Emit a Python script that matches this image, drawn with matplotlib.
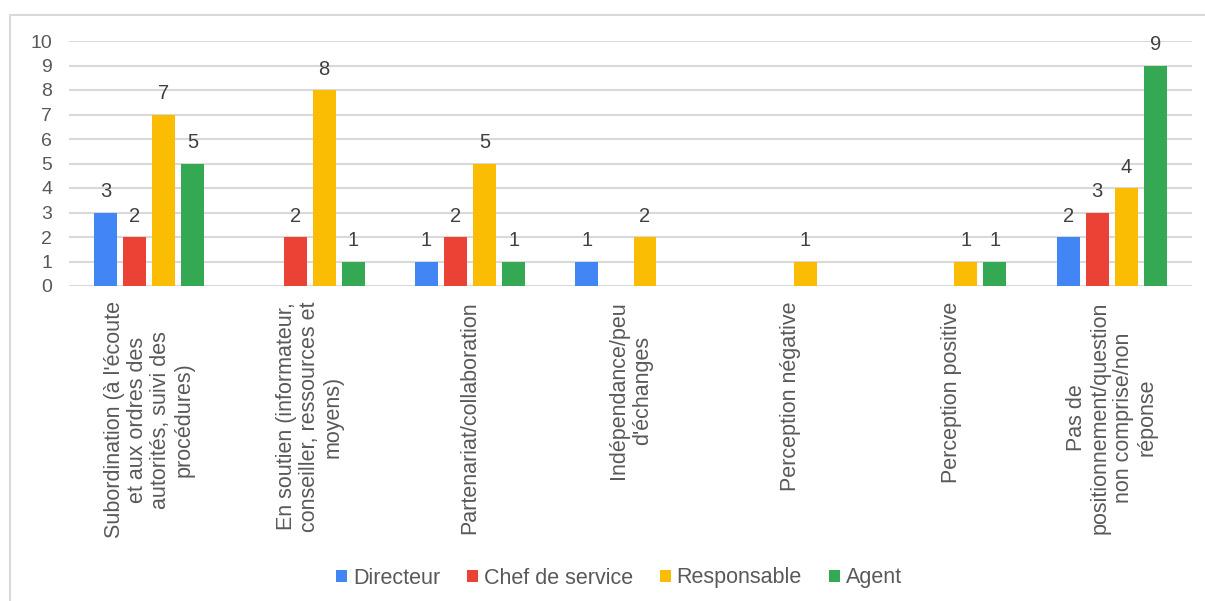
import matplotlib
matplotlib.use("Agg")
import matplotlib.pyplot as plt
from matplotlib.patches import Patch, Rectangle
import numpy as np

plt.rcParams['font.family'] = ['Liberation Sans', 'DejaVu Sans']

categories = [
    "Subordination (à l'écoute\net aux ordres des\nautorités, suivi des\nprocédures)",
    "En soutien (informateur,\nconseiller, ressources et\nmoyens)",
    "Partenariat/collaboration",
    "Indépendance/peu\nd'échanges",
    "Perception négative",
    "Perception positive",
    "Pas de\npositionnement/question\nnon comprise/non\nréponse",
]
series_names = ["Directeur", "Chef de service", "Responsable", "Agent"]
directeur = [3, 0, 1, 1, 0, 0, 2]
chef_de_service = [2, 2, 2, 0, 0, 0, 3]
responsable = [7, 8, 5, 2, 1, 1, 4]
agent = [5, 1, 1, 0, 0, 1, 9]
yticks = list(range(0, 11))

colors = ["#4285F4", "#EA4335", "#FBBC04", "#34A853"]
values = [directeur, chef_de_service, responsable, agent]

W, H = 1205, 601
fig = plt.figure(figsize=(W / 100, H / 100), dpi=100)
fig.patch.set_facecolor("white")

# light outer frame
fig.patches.append(Rectangle((10 / W, -0.05), 1.2, 1 - 15 / H + 0.05,
                             transform=fig.transFigure, fill=False,
                             edgecolor="#D9D9D9", linewidth=1.5))

ax = fig.add_axes([69 / W, 1 - 286 / H, (1192 - 69) / W, (286 - 41) / H])
x = np.arange(len(categories))
bw = 0.143
step = 0.181
text_gray = "#595959"

for i, (name, vals, c) in enumerate(zip(series_names, values, colors)):
    pos = x + (i - 1.5) * step
    bars = ax.bar(pos, vals, width=bw, color=c, label=name, zorder=3)
    for b, v in zip(bars, vals):
        if v > 0:
            ax.annotate(str(v), (b.get_x() + b.get_width() / 2, v),
                        xytext=(0, 8), textcoords="offset points",
                        ha="center", va="bottom", fontsize=14.5,
                        color="#404040")

ax.set_xlim(-0.5, len(categories) - 0.5)
ax.set_ylim(0, 10)
ax.set_yticks(yticks)
ax.set_yticklabels([str(t) for t in yticks])
ax.yaxis.grid(True, color="#D9D9D9", linewidth=1.5, zorder=0)
ax.set_axisbelow(True)
for s in ax.spines.values():
    s.set_visible(False)
ax.tick_params(axis="y", length=0, pad=12, labelsize=14, labelcolor=text_gray)
ax.tick_params(axis="x", length=0, pad=11, labelsize=15.5, labelcolor=text_gray)
ax.set_xticks(x)
ax.set_xticklabels(categories, rotation=90, ha="center", va="top",
                   multialignment="center", linespacing=1.15)

handles = [Patch(facecolor=c, edgecolor="none") for c in colors]
fig.legend(handles, series_names, loc="center", bbox_to_anchor=(619 / W, 1 - 578 / H),
           ncol=4, frameon=False, fontsize=15.5, handlelength=0.5, handleheight=0.5,
           handletextpad=0.28, columnspacing=1.25, labelcolor=text_gray)

fig.savefig("out.png", dpi=100, facecolor="white")
